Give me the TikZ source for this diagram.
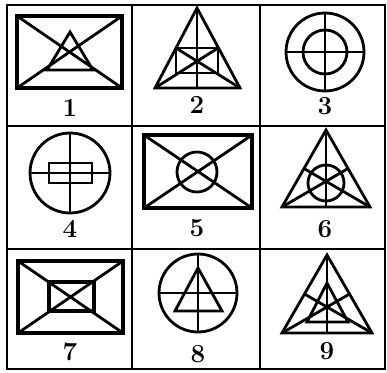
\documentclass[tikz,border=0pt]{standalone}
\usepackage{fontspec}
\usetikzlibrary{calc}
\begin{document}
\begin{tikzpicture}[x=1pt,y=-1pt,
  grid/.style={line width=2pt},
  fig/.style={line width=2.8pt,line join=miter},
  frame/.style={line width=3.4pt},
  lab/.style={font=\fontsize{26}{28}\selectfont\bfseries,inner sep=0pt}]
\useasboundingbox (0,0) rectangle (387,372);
% grid
\draw[grid] (7,5) rectangle (385,369);
\draw[grid] (132,5) -- (132,369) (260,5) -- (260,369);
\draw[grid] (7,126) -- (385,126) (7,249) -- (385,249);
% cell 1
\draw[frame] (17,16) rectangle (122,88);
\draw[fig] (17,16) -- (122,88) (122,16) -- (17,88);
\draw[fig] (70,32) -- (47,70) -- (93,70) -- cycle;
\node[lab] (l1) at (70,108) {1};
% cell 2
\coordinate (a2) at (197,8); \coordinate (b2) at (155,88); \coordinate (c2) at (240,88);
\draw[fig] (a2) -- (b2) -- (c2) -- cycle;
\draw[fig] (a2) -- (197,88);
\draw[fig] (176,48) rectangle (218,73);
\draw[fig] (b2) -- (218,48) (c2) -- (176,48);
\node[lab] (l2) at (197,105) {2};
% cell 3
\draw[fig] (325,52) circle (39) (325,52) circle (22);
\draw[fig] (286,52) -- (364,52) (325,13) -- (325,91);
\node[lab] (l3) at (325,106) {3};
% cell 4
\draw[fig] (70,173) circle (40);
\draw[fig] (30,173) -- (110,173) (70,133) -- (70,213);
\draw[fig] (49,163) rectangle (92,183);
\node[lab] (l4) at (70,229) {4};
% cell 5
\draw[frame] (144,135) rectangle (252,208);
\draw[fig] (144,135) -- (252,208) (252,135) -- (144,208);
\draw[fig] (197,172) circle (20);
\node[lab] (l5) at (197,228) {5};
% cell 6
\coordinate (a6) at (326,130); \coordinate (b6) at (282,207); \coordinate (c6) at (370,207);
\draw[fig] (a6) -- (b6) -- (c6) -- cycle;
\draw[fig] (a6) -- (326,207);
\draw[fig] (b6) -- ($(a6)!0.5!(c6)$) (c6) -- ($(a6)!0.5!(b6)$);
\draw[fig] (326,183) circle (18);
\node[lab] (l6) at (325,229) {6};
% cell 7
\draw[frame] (18,261) rectangle (123,333);
\draw[fig] (18,261) -- (123,333) (123,261) -- (18,333);
\draw[frame] (49,282) rectangle (94,311);
\node[lab] (l7) at (70,352) {7};
% cell 8
\draw[fig] (198,293) circle (39);
\draw[fig] (159,293) -- (237,293) (198,254) -- (198,332);
\draw[fig] (198,268) -- (175,311) -- (222,311) -- cycle;
\node[lab] (l8) at (198,354) {8};
% cell 9
\coordinate (a9) at (327,255); \coordinate (b9) at (282,333); \coordinate (c9) at (372,333);
\draw[fig] (a9) -- (b9) -- (c9) -- cycle;
\draw[fig] (a9) -- (327,333);
\draw[fig] (b9) -- ($(a9)!0.5!(c9)$) (c9) -- ($(a9)!0.5!(b9)$);
\draw[fig] (327,283) -- (307,322) -- (348,322) -- cycle;
\node[lab] (l9) at (327,351) {9};
\end{tikzpicture}
\end{document}
